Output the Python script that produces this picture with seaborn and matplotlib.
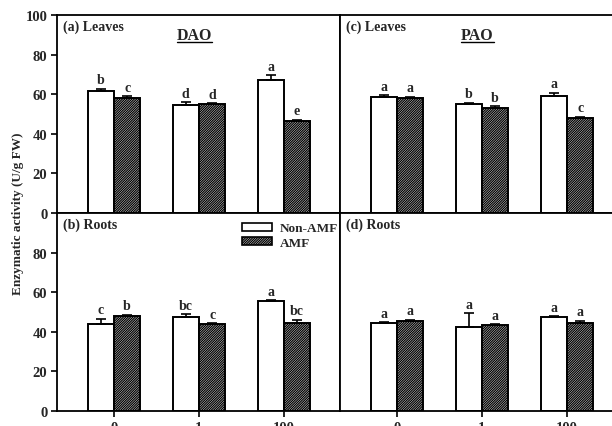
import matplotlib

matplotlib.use("Agg")
import matplotlib.pyplot as plt
import numpy as np
import pandas as pd
import seaborn as sns
from matplotlib.patches import Patch
from matplotlib.lines import Line2D

# data
doses = ["0", "1", "100"]
treatments = ["Non-AMF", "AMF"]

dao_leaves_non = [61.6, 54.7, 67.2]
dao_leaves_amf = [58.1, 55.0, 46.3]
dao_leaves_err_non = [1.2, 1.2, 2.3]
dao_leaves_err_amf = [1.0, 0.6, 0.9]
dao_leaves_letters_non = ["b", "d", "a"]
dao_leaves_letters_amf = ["c", "d", "e"]

pao_leaves_non = [58.8, 55.2, 59.1]
pao_leaves_amf = [58.1, 53.0, 48.0]
pao_leaves_err_non = [0.8, 0.5, 1.7]
pao_leaves_err_amf = [0.7, 1.0, 0.6]
pao_leaves_letters_non = ["a", "b", "a"]
pao_leaves_letters_amf = ["a", "b", "c"]

dao_roots_non = [43.8, 47.3, 55.4]
dao_roots_amf = [48.1, 43.9, 44.4]
dao_roots_err_non = [2.8, 1.7, 0.7]
dao_roots_err_amf = [0.5, 0.3, 1.7]
dao_roots_letters_non = ["c", "bc", "a"]
dao_roots_letters_amf = ["b", "c", "bc"]

pao_roots_non = [44.6, 42.6, 47.6]
pao_roots_amf = [45.3, 43.4, 44.4]
pao_roots_err_non = [0.4, 6.9, 0.4]
pao_roots_err_amf = [0.8, 0.3, 1.2]
pao_roots_letters_non = ["a", "a", "a"]
pao_roots_letters_amf = ["a", "a", "a"]

panels = [
    ("(a) Leaves", "DAO", dao_leaves_non, dao_leaves_amf, dao_leaves_err_non,
     dao_leaves_err_amf, dao_leaves_letters_non, dao_leaves_letters_amf),
    ("(c) Leaves", "PAO", pao_leaves_non, pao_leaves_amf, pao_leaves_err_non,
     pao_leaves_err_amf, pao_leaves_letters_non, pao_leaves_letters_amf),
    ("(b) Roots", None, dao_roots_non, dao_roots_amf, dao_roots_err_non,
     dao_roots_err_amf, dao_roots_letters_non, dao_roots_letters_amf),
    ("(d) Roots", None, pao_roots_non, pao_roots_amf, pao_roots_err_non,
     pao_roots_err_amf, pao_roots_letters_non, pao_roots_letters_amf),
]

sns.set_style("white")
plt.rcParams["font.family"] = ["Liberation Serif", "DejaVu Serif"]
plt.rcParams["font.weight"] = "bold"
plt.rcParams["hatch.linewidth"] = 0.9
HATCH = "//////////////"

fig = plt.figure(figsize=(6.12, 4.27), dpi=100)
W = 283 / 612
H = 198 / 427
positions = [
    (57 / 612, 213 / 427, W, H),
    (340 / 612, 213 / 427, W, H),
    (57 / 612, 15 / 427, W, H),
    (340 / 612, 15 / 427, W, H),
]

title_texts = []
for idx, (label, title, non, amf, enon, eamf, lnon, lamf) in enumerate(panels):
    ax = fig.add_axes(positions[idx])
    df = pd.DataFrame({
        "dose": doses * 2,
        "treatment": [treatments[0]] * 3 + [treatments[1]] * 3,
        "value": list(non) + list(amf),
    })
    sns.barplot(data=df, x="dose", y="value", hue="treatment", order=doses,
                hue_order=treatments, width=0.62, errorbar=None, ax=ax,
                palette=["white", "white"], edgecolor="black", linewidth=1.4,
                legend=False)
    errs = [enon, eamf]
    letters = [lnon, lamf]
    bar_groups = list(ax.containers)[:2]
    for k, cont in enumerate(bar_groups):
        xs = [b.get_x() + b.get_width() / 2 for b in cont]
        ys = [b.get_height() for b in cont]
        if k == 1:
            for b in cont:
                b.set_hatch(HATCH)
        ax.errorbar(xs, ys, yerr=[np.zeros(3), errs[k]], fmt="none",
                    ecolor="black", elinewidth=1.2, capsize=3.3, capthick=1.2)
        for x, y, e, t in zip(xs, ys, errs[k], letters[k]):
            ax.text(x, y + e + 1.2, t, ha="center", va="bottom",
                    fontsize=10, fontweight="bold")

    ax.set_ylim(0, 100)
    ax.set_xlim(-0.67, 2.66)
    ax.set_xlabel("")
    ax.set_ylabel("")
    for s in ax.spines.values():
        s.set_linewidth(1.3)
        s.set_color("black")
    ax.tick_params(axis="both", direction="out", length=4, width=1.2,
                   labelsize=10.5, color="black")
    if idx % 2 == 0:
        ax.set_yticks([0, 20, 40, 60, 80, 100] if idx == 0 else [0, 20, 40, 60, 80])
        ax.tick_params(axis="y", left=True, pad=3)
        for t in ax.get_yticklabels():
            t.set_fontweight("bold")
    else:
        ax.set_yticks([])
    if idx < 2:
        ax.set_xticks([])
    else:
        ax.set_xticks(range(3))
        ax.set_xticklabels(doses, fontweight="bold")
        ax.tick_params(axis="x", bottom=True, pad=3)

    ax.text(0.022, 0.975, label, transform=ax.transAxes, ha="left", va="top",
            fontsize=10, fontweight="bold")
    if title:
        tt = ax.text(0.485, 0.9, title, transform=ax.transAxes, ha="center",
                     va="center", fontsize=11.5, fontweight="bold")
        title_texts.append((ax, tt))

    if idx == 2:
        handles = [
            Patch(facecolor="white", edgecolor="black", linewidth=1.2),
            Patch(facecolor="white", edgecolor="black", linewidth=1.2, hatch=HATCH),
        ]
        ax.legend(handles, treatments, loc="upper left",
                  bbox_to_anchor=(0.62, 1.0), frameon=False,
                  handlelength=2.3, handleheight=0.55, handletextpad=0.6,
                  labelspacing=0.2, borderaxespad=0.3,
                  prop={"weight": "bold", "size": 9.5})

fig.text(18 / 612, 0.5, "Enzymatic activity (U/g FW)", rotation=90,
         ha="center", va="center", fontsize=9.5, fontweight="bold")

# underline the enzyme titles
fig.canvas.draw()
renderer = fig.canvas.get_renderer()
for ax, tt in title_texts:
    bb = tt.get_window_extent(renderer).transformed(ax.transAxes.inverted())
    ax.add_line(Line2D([bb.x0, bb.x1], [bb.y0 + 0.005, bb.y0 + 0.005],
                       transform=ax.transAxes, color="black", linewidth=1.0))

fig.savefig("out.png", dpi=100)
